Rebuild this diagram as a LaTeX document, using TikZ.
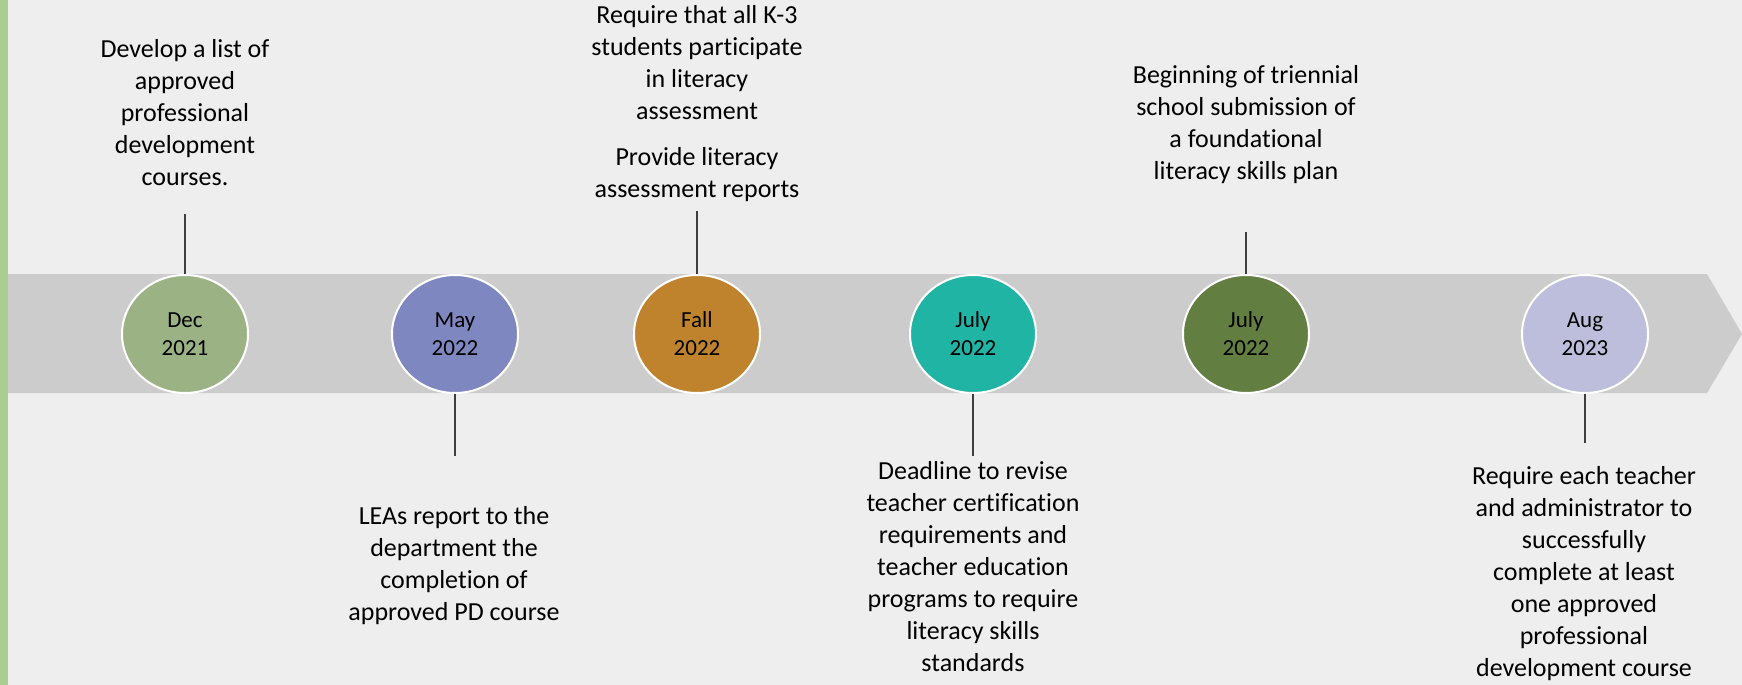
\documentclass[tikz,border=0pt]{standalone}
\usepackage{fontspec}
\setmainfont{Carlito}[RawFeature=-liga]
\usetikzlibrary{shapes.geometric}

\definecolor{paper}{RGB}{238,238,238}
\definecolor{leaf}{RGB}{170,205,144}
\definecolor{bandgray}{RGB}{204,204,204}
\definecolor{stemgray}{RGB}{62,62,62}
\definecolor{sage}{RGB}{155,179,132}
\definecolor{lilac}{RGB}{127,135,192}
\definecolor{ochre}{RGB}{190,131,44}
\definecolor{seagreen}{RGB}{32,180,164}
\definecolor{moss}{RGB}{98,126,65}
\definecolor{mist}{RGB}{188,190,219}

\tikzset{
  milestone/.style={ellipse, draw=white, line width=1pt, inner sep=0pt,
    minimum width=63pt, minimum height=59pt, align=center,
    font=\fontsize{11.5}{14}\selectfont},
  stemline/.style={draw=stemgray, line width=1pt},
  notetext/.style={align=center, inner sep=0pt,
    font=\fontsize{13}{16}\selectfont}
}

\begin{document}
\begin{tikzpicture}[x=0.5pt,y=-0.5pt]
    \useasboundingbox (0,0) rectangle (1742,685);
    \fill[paper] (0,0) rectangle (1742,685);
    \fill[leaf] (0,0) rectangle (8,685);

    % Time band
    \fill[bandgray] (8,274) -- (1707,274) -- (1742,334) -- (1707,393) -- (8,393) -- cycle;

    % Dates
    \node[milestone, fill=sage] (dec21) at (185,334) {Dec\\2021};
    \node[milestone, fill=lilac] (may22) at (455,334) {May\\2022};
    \node[milestone, fill=ochre] (fall22) at (697,334) {Fall\\2022};
    \node[milestone, fill=seagreen] (jul22a) at (973,334) {July\\2022};
    \node[milestone, fill=moss] (jul22b) at (1246,334) {July\\2022};
    \node[milestone, fill=mist] (aug23) at (1585,334) {Aug\\2023};

    % Stems
    \coordinate (dec21end) at (185,214);
    \coordinate (may22end) at (455,456);
    \coordinate (fall22end) at (697,211);
    \coordinate (jul22aend) at (973,456);
    \coordinate (jul22bend) at (1246,232);
    \coordinate (aug23end) at (1585,443);
    \draw[stemline] (dec21.north) -- (dec21end);
    \draw[stemline] (may22.south) -- (may22end);
    \draw[stemline] (fall22.north) -- (fall22end);
    \draw[stemline] (jul22a.south) -- (jul22aend);
    \draw[stemline] (jul22b.north) -- (jul22bend);
    \draw[stemline] (aug23.south) -- (aug23end);

    % Labels
    \node[notetext] (dec21txt) at (185,113) {Develop a list of\\approved\\professional\\development\\courses.};
    \node[notetext] (may22txt) at (454,566) {LEAs report to the\\department the\\completion of\\approved PD course};
    \node[notetext] (fall22txt) at (697,104) {Require that all K-3\\students participate\\in literacy\\assessment\\[7pt]Provide literacy\\assessment reports};
    \node[notetext] (jul22atxt) at (973,567) {Deadline to revise\\teacher certification\\requirements and\\teacher education\\programs to require\\literacy skills\\standards};
    \node[notetext] (jul22btxt) at (1246,125) {Beginning of triennial\\school submission of\\a foundational\\literacy skills plan};
    \node[notetext] (aug23txt) at (1584,574) {Require each teacher\\and administrator to\\successfully\\complete at least\\one approved\\professional\\development course};
\end{tikzpicture}
\end{document}
